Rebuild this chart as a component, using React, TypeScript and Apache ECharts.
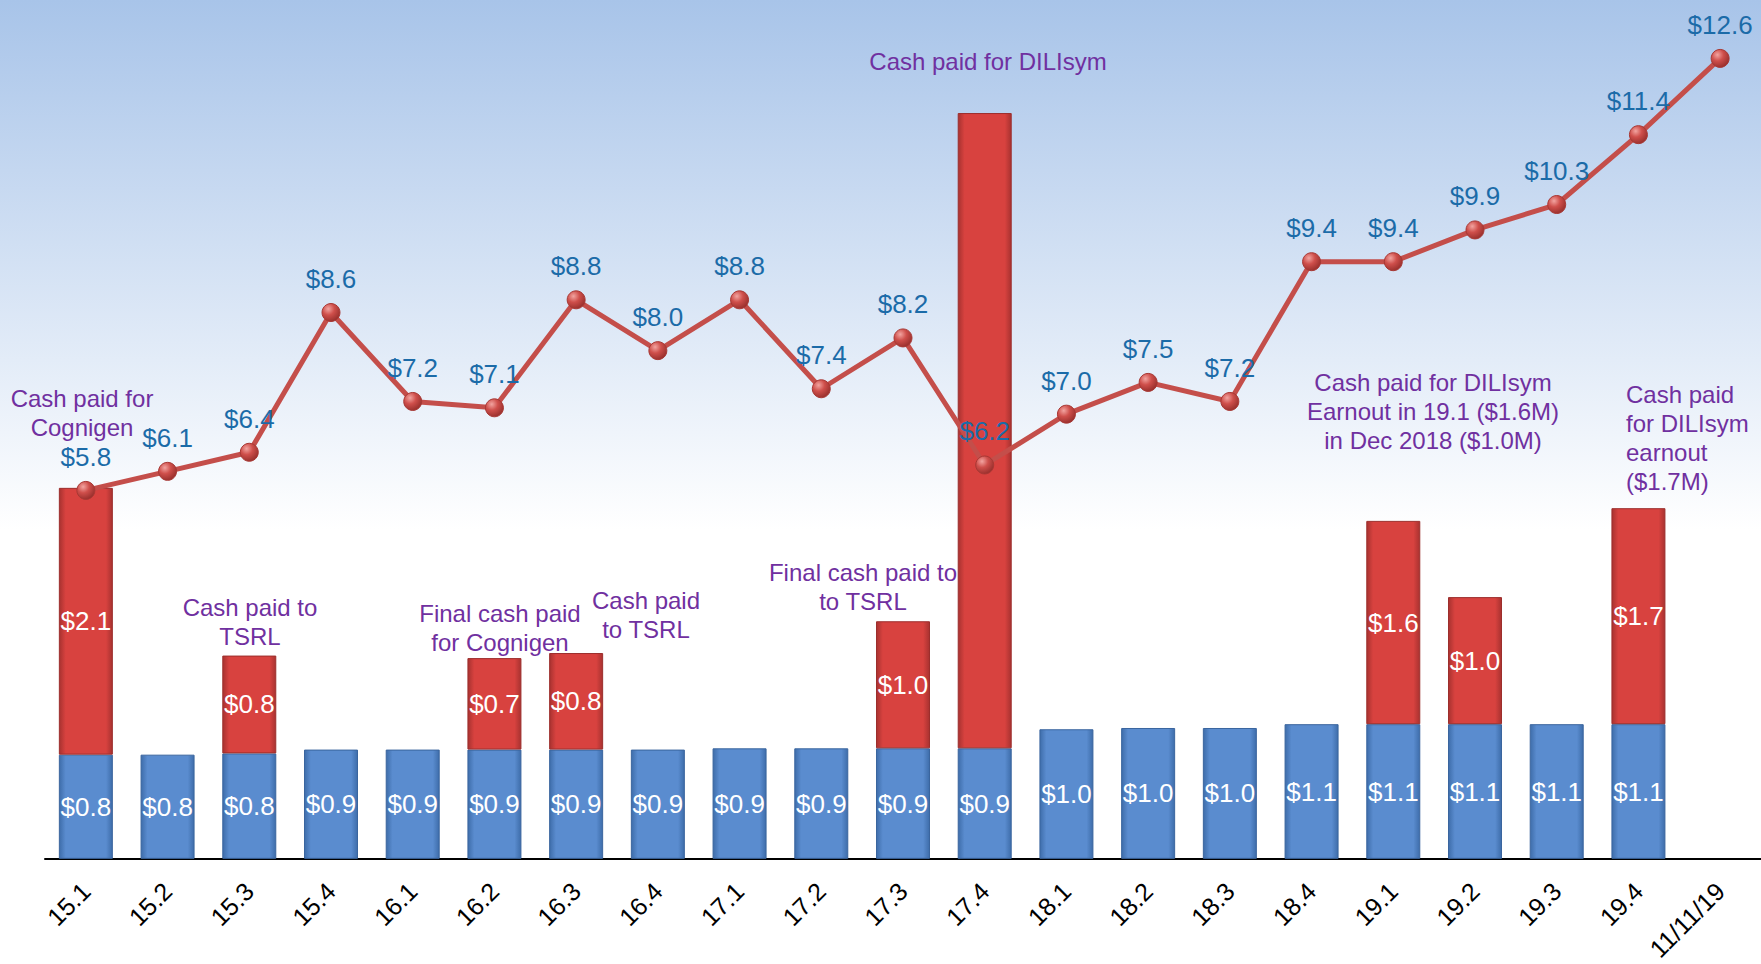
import React, { useEffect, useRef } from "react";
import * as echarts from "echarts";

const categories = ["15.1","15.2","15.3","15.4","16.1","16.2","16.3","16.4","17.1","17.2","17.3","17.4","18.1","18.2","18.3","18.4","19.1","19.2","19.3","19.4","11/11/19"];
const baseCash = [0.82,0.82,0.83,0.86,0.86,0.86,0.86,0.86,0.87,0.87,0.87,0.87,1.02,1.03,1.03,1.06,1.06,1.06,1.06,1.06,null];
const acquisitionCash = [2.1,null,0.77,null,null,0.72,0.76,null,null,null,1.0,5.0,null,null,null,null,1.6,1.0,null,1.7,null];
const hiddenLabelIdx = [11];
const totalCash = [5.8,6.1,6.4,8.6,7.2,7.1,8.8,8.0,8.8,7.4,8.2,6.2,7.0,7.5,7.2,9.4,9.4,9.9,10.3,11.4,12.6];

const notes = [
  { text: "Cash paid for\nCognigen", x: 82, y: 384, align: "center" },
  { text: "Cash paid to\nTSRL", x: 250, y: 593, align: "center" },
  { text: "Final cash paid\nfor Cognigen", x: 500, y: 599, align: "center" },
  { text: "Cash paid\nto TSRL", x: 646, y: 586, align: "center" },
  { text: "Final cash paid to\nto TSRL", x: 863, y: 558, align: "center" },
  { text: "Cash paid for DILIsym", x: 988, y: 47, align: "center" },
  { text: "Cash paid for DILIsym\nEarnout in 19.1 ($1.6M)\nin Dec 2018 ($1.0M)", x: 1433, y: 368, align: "center" },
  { text: "Cash paid\nfor DILIsym\nearnout\n($1.7M)", x: 1626, y: 380, align: "left" },
];

const FONT = "'Liberation Sans', Arial, sans-serif";

export default function App() {
  const ref = useRef<HTMLDivElement>(null);
  useEffect(() => {
    if (!ref.current) return;
    const chart = echarts.init(ref.current, null, { renderer: "svg" });
    const hGrad = (edge: string, mid: string) =>
      new echarts.graphic.LinearGradient(0, 0, 1, 0, [
        { offset: 0, color: edge },
        { offset: 0.12, color: mid },
        { offset: 0.88, color: mid },
        { offset: 1, color: edge },
      ]);
    const blue = hGrad("#3E6DAA", "#5A8CCF");
    const red = hGrad("#A83230", "#D8423F");
    const fmt = (p: any) => "$" + Number(p.value).toFixed(1);
    chart.setOption({
      animation: false,
      backgroundColor: new echarts.graphic.LinearGradient(0, 0, 0, 1, [
        { offset: 0, color: "#A8C4E9" },
        { offset: 0.55, color: "#FFFFFF" },
        { offset: 1, color: "#FFFFFF" },
      ]),
      grid: { left: 45, right: -4, top: 33, bottom: 99, containLabel: false },
      xAxis: {
        type: "category",
        data: categories,
        axisLine: { show: true, lineStyle: { color: "#000", width: 2 } },
        axisTick: { show: false },
        axisLabel: { rotate: 45, color: "#000", fontSize: 25, fontFamily: FONT, margin: 28, interval: 0 },
      },
      yAxis: [
        { type: "value", min: 0, max: 6.5, show: false, splitLine: { show: false } },
        { type: "value", min: 0, max: 13, show: false, splitLine: { show: false } },
      ],
      series: [
        {
          type: "bar",
          stack: "cash",
          barWidth: 54,
          data: baseCash,
          itemStyle: { color: blue, borderColor: "#3A659E", borderWidth: 1 },
          label: { show: true, position: "inside", color: "#fff", fontSize: 26, fontFamily: FONT, formatter: fmt },
        },
        {
          type: "bar",
          stack: "cash",
          barWidth: 54,
          data: acquisitionCash.map((v, i) => hiddenLabelIdx.includes(i) ? { value: v, label: { show: false } } : v),
          itemStyle: { color: red, borderColor: "#9C2E2C", borderWidth: 1 },
          label: { show: true, position: "inside", color: "#fff", fontSize: 26, fontFamily: FONT, formatter: fmt },
        },
        {
          type: "line",
          yAxisIndex: 1,
          data: totalCash,
          symbol: "circle",
          symbolSize: 18,
          lineStyle: { color: "#C44E4A", width: 5 },
          itemStyle: {
            color: new echarts.graphic.RadialGradient(0.35, 0.3, 0.75, [
              { offset: 0, color: "#F2A4A0" },
              { offset: 0.45, color: "#CF4F4B" },
              { offset: 1, color: "#962E2B" },
            ]),
            borderColor: "#A83834",
            borderWidth: 1,
          },
          label: { show: true, position: "top", distance: 11, color: "#1B6BA8", fontSize: 26, fontFamily: FONT, formatter: fmt },
          z: 5,
        },
      ],
      graphic: notes.map((n) => ({
        type: "text",
        x: n.x,
        y: n.y,
        z: 10,
        style: {
          text: n.text,
          fill: "#7030A0",
          font: "24px " + FONT,
          align: n.align,
          verticalAlign: "top",
          lineHeight: 29,
        },
      })),
    });
    return () => chart.dispose();
  }, []);
  return <div ref={ref} style={{ position: "fixed", left: 0, top: 0, width: 1761, height: 964 }} />;
}
